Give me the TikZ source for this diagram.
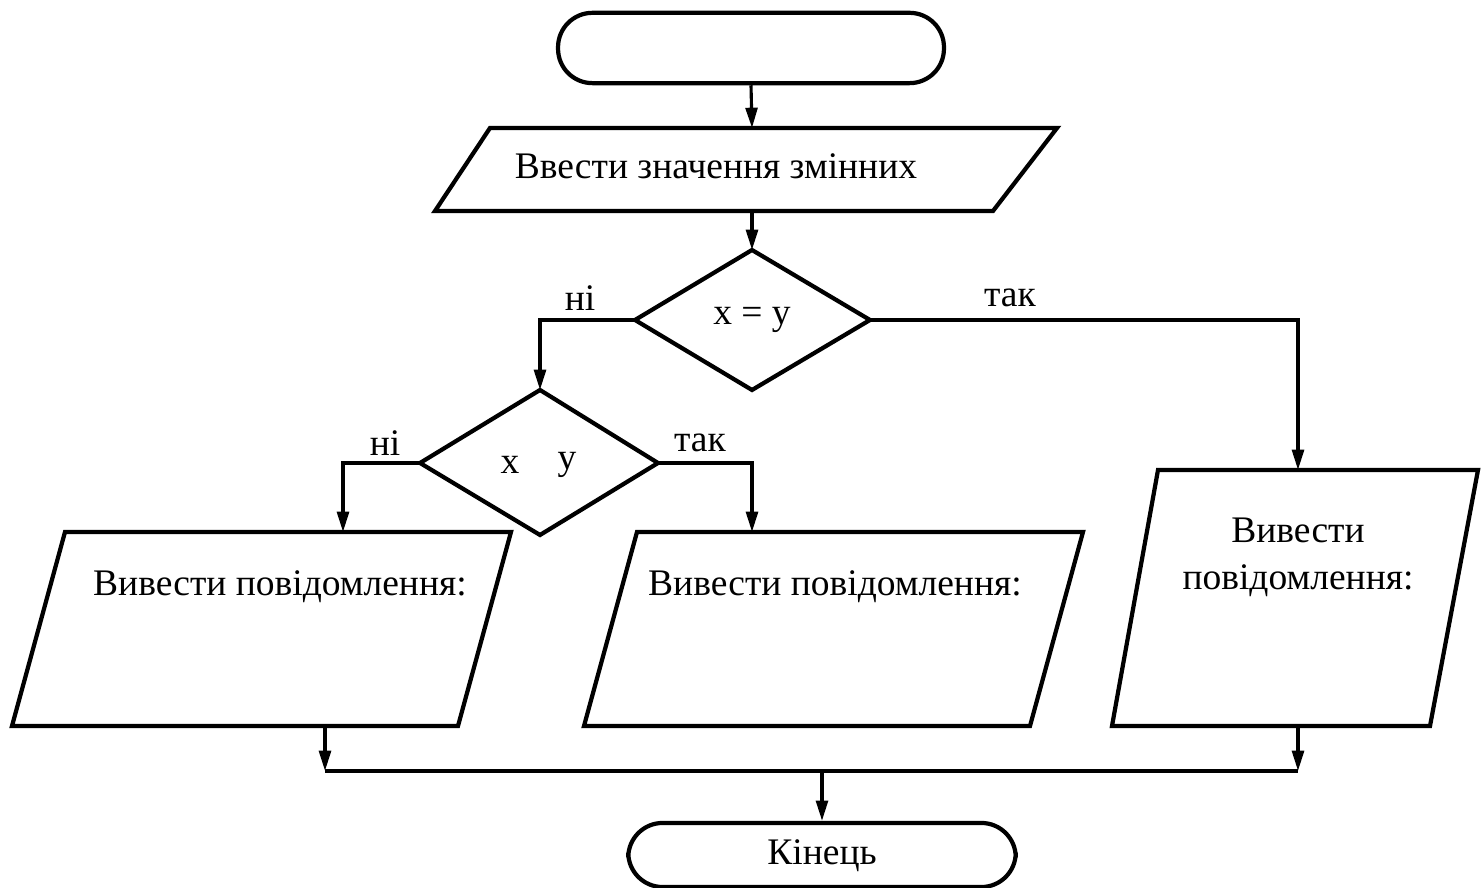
\documentclass[tikz,border=0pt]{standalone}
\usepackage{fontspec}
\setmainfont{Liberation Serif}
\usetikzlibrary{arrows.meta}
\begin{document}
\begin{tikzpicture}[x=0.32pt,y=-0.32pt,
  shapeline/.style={line width=1.35pt, line join=miter},
  conn/.style={line width=1pt},
  arr/.style={conn, -{Triangle[length=6.5pt,width=3.8pt]}},
  term/.style={shapeline, draw, rectangle, rounded corners=11pt, inner sep=0pt},
  lbl/.style={font=\fontsize{12}{14}\selectfont, inner sep=0pt},
]
\useasboundingbox (0,0) rectangle (1482,888);
% start terminator
\node[term, minimum width=123.5pt, minimum height=22.5pt] (start) at (751,48) {};
% input parallelogram
\draw[shapeline] (490,128) -- (1057,128) -- (993,211) -- (435,211) -- cycle;
\coordinate (inTop) at (752,128);
\coordinate (inBot) at (752,211);
\node[lbl] (inTxt) at (716,166) {Ввести значення змінних};
% diamond 1
\draw[shapeline] (752,250) -- (870,320) -- (752,390) -- (635,320) -- cycle;
\coordinate (d1T) at (752,250);
\coordinate (d1L) at (635,320);
\coordinate (d1R) at (870,320);
\node[lbl] (d1Txt) at (752,320) {x = y};
% diamond 2
\draw[shapeline] (540,390) -- (658,463) -- (540,535) -- (420,463) -- cycle;
\coordinate (d2T) at (540,390);
\coordinate (d2L) at (420,463);
\coordinate (d2R) at (658,463);
\node[lbl] (d2x) at (510,465) {x};
\node[lbl] (d2y) at (567,465) {y};
% left output
\draw[shapeline] (65,532) -- (511,532) -- (458,726) -- (12,726) -- cycle;
\coordinate (oLT) at (343,532);
\coordinate (oLB) at (325,726);
\node[lbl] (oLTxt) at (280,587) {Вивести повідомлення:};
% middle output
\draw[shapeline] (637,532) -- (1083,532) -- (1030,726) -- (584,726) -- cycle;
\coordinate (oMT) at (752,532);
\node[lbl] (oMTxt) at (835,587) {Вивести повідомлення:};
% right output
\draw[shapeline] (1158,470) -- (1478,470) -- (1430,726) -- (1112,726) -- cycle;
\coordinate (oRT) at (1298,470);
\coordinate (oRB) at (1298,726);
\node[lbl, align=center] (oRTxt) at (1298,557) {Вивести\\[1pt]повідомлення:};
% end terminator
\node[term, minimum width=124pt, minimum height=20.5pt] (end) at (822,855) {};
\node[lbl] (endTxt) at (822,856) {Кінець};
% merge line
\coordinate (mL) at (325,771);
\coordinate (mR) at (1298,771);
\coordinate (mC) at (822,771);
% connectors
\draw[arr] (start.south) -- (inTop);
\draw[arr] (inBot) -- (d1T);
\draw[arr] (d1L) -- (540,320) -- (d2T);
\draw[arr] (d1R) -- (1298,320) -- (oRT);
\draw[arr] (d2L) -- (343,463) -- (oLT);
\draw[arr] (d2R) -- (752,463) -- (oMT);
\draw[arr] (oLB) -- (mL);
\draw[arr] (oRB) -- (mR);
\draw[conn, line width=1.35pt] (mL) -- (mR);
\draw[arr] (mC) -- (end.north);
% branch labels
\node[lbl] (l1) at (580,298) {ні};
\node[lbl] (l2) at (1010,298) {так};
\node[lbl] (l3) at (385,443) {ні};
\node[lbl] (l4) at (700,443) {так};
\end{tikzpicture}
\end{document}
